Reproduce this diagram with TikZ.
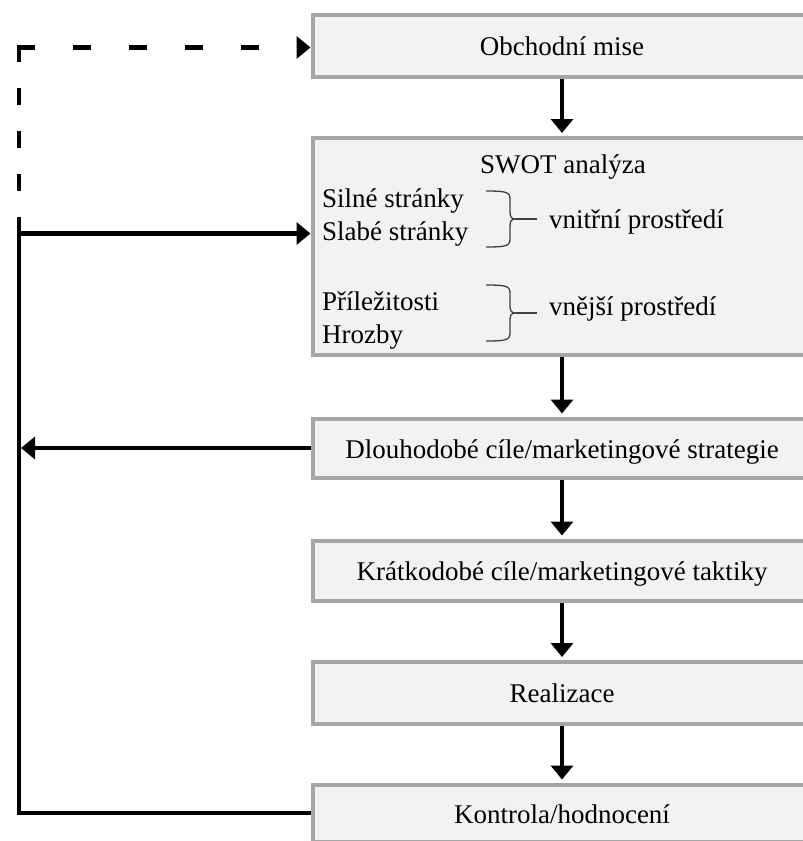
\documentclass[tikz,border=0pt]{standalone}
\usepackage{fontspec}
\setmainfont{Liberation Serif}
\usetikzlibrary{arrows.meta}

\definecolor{boxfill}{HTML}{F2F2F2}
\definecolor{boxline}{HTML}{A6A6A6}
\definecolor{braceline}{HTML}{404040}
\newcommand{\boxfont}{\rmfamily\fontsize{27}{33}\selectfont}

\begin{document}
\begin{tikzpicture}[x=1pt,y=-1pt,
    block/.style={rectangle,draw=boxline,line width=4pt,fill=boxfill,minimum width=499pt,inner sep=0pt,
        text height=22pt,text depth=2pt,align=center,font=\boxfont},
    swottext/.style={inner sep=0pt,font=\boxfont},
    arrow/.style={-{Triangle[length=14pt,width=22pt]},line width=4.5pt,shorten >=3pt},
    fbline/.style={line width=4.5pt},
    dashline/.style={line width=4.5pt,line cap=rect},
    bracestroke/.style={draw=braceline,line width=1.3pt},
    swotbrace/.pic={
        \draw[bracestroke] (-24,-28) .. controls (-4,-28) and (0,-27) .. (0,-20) -- (0,-8)
            .. controls (0,-2) and (1,0) .. (6,0) .. controls (1,0) and (0,2) .. (0,8) -- (0,20)
            .. controls (0,27) and (-4,28) .. (-24,28);
        \draw[bracestroke] (6,0) -- (27,0);
    }
]

\useasboundingbox (0,0) rectangle (803,841);

% === Main chain ===
\node[block,minimum height=61.5pt] (mise) at (562,45.75) {Obchodní mise};
\node[block,minimum height=217pt] (swot) at (562,246.5) {};
\node[block,minimum height=59pt] (dlouho) at (562,448) {Dlouhodobé cíle/marketingové strategie};
\node[block,minimum height=60pt] (kratko) at (562,570.5) {Krátkodobé cíle/marketingové taktiky};
\node[block,minimum height=61.5pt] (realizace) at (562,692.75) {Realizace};
\node[block,minimum height=57pt] (kontrola) at (562,813) {Kontrola/hodnocení};

\draw[arrow] (mise) -- (swot);
\draw[arrow] (swot) -- (dlouho);
\draw[arrow] (dlouho) -- (kratko);
\draw[arrow] (kratko) -- (realizace);
\draw[arrow] (realizace) -- (kontrola);

% === SWOT content ===
\node[swottext,anchor=base] (swottitle) at (563,173) {SWOT analýza};
\node[swottext,anchor=base west] (silne) at (322,207) {Silné stránky};
\node[swottext,anchor=base west] (slabe) at (322,240) {Slabé stránky};
\node[swottext,anchor=base west] (prilez) at (322,310) {Příležitosti};
\node[swottext,anchor=base west] (hrozby) at (322,343) {Hrozby};
\node[swottext,anchor=base west] (vnitrni) at (549,228) {vnitřní prostředí};
\node[swottext,anchor=base west] (vnejsi) at (549,315) {vnější prostředí};

\pic at (510,219) {swotbrace};
\pic at (510,313) {swotbrace};

% === Feedback loop ===
\coordinate (fbtop) at (19,217);
\coordinate (fbin) at (19,233.5);
\coordinate (corner) at (19,47.5);

\draw[fbline] (kontrola.west) -| (fbtop);
\draw[arrow,shorten >=0pt] (fbin) -- (fbin -| swot.west);
\draw[arrow,shorten >=2pt] (dlouho.west) -- (dlouho.west -| fbtop);

% dashed return to the mission
\draw[dashline,dash pattern=on 12.5pt off 30.5pt] (corner) -- (fbtop);
\draw[dashline,dash pattern=on 14pt off 42pt,-{Triangle[length=14pt,width=22pt]}] (corner) -- (corner -| mise.west);

\end{tikzpicture}
\end{document}
